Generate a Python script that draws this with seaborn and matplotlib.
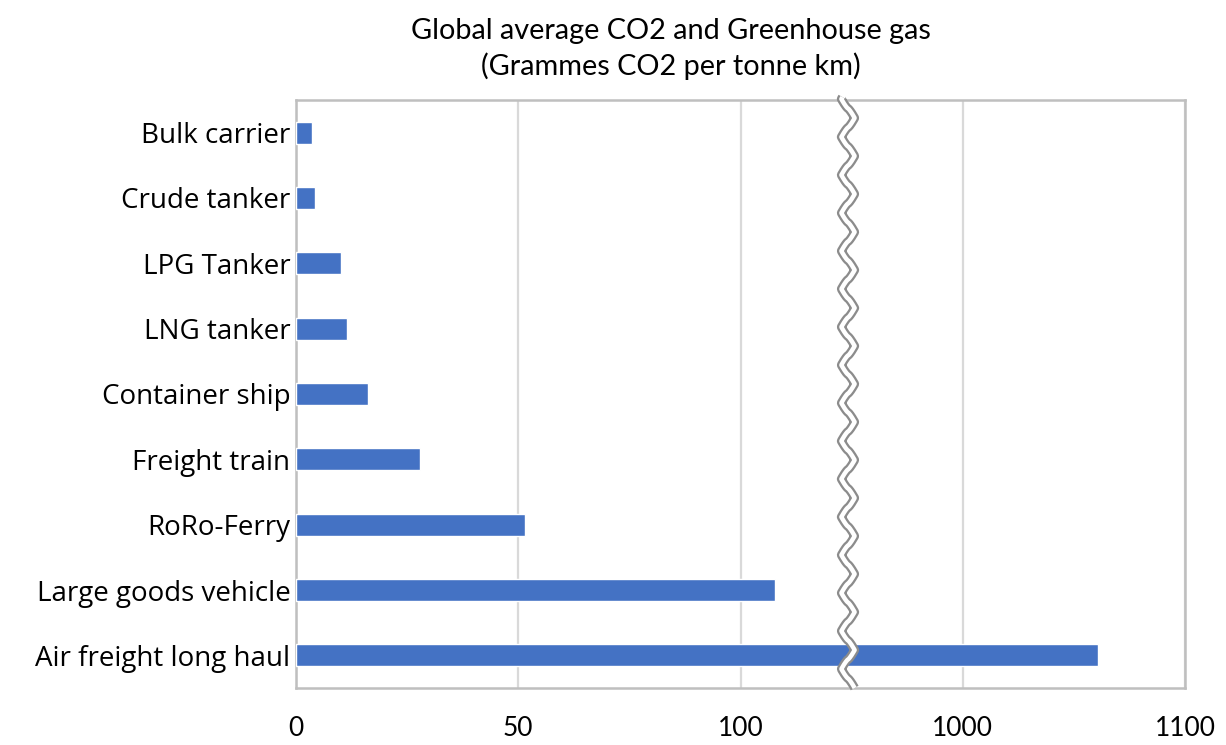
import numpy as np
import pandas as pd
import matplotlib
matplotlib.use("Agg")
import matplotlib.pyplot as plt
import seaborn as sns

categories = ["Bulk carrier", "Crude tanker", "LPG Tanker", "LNG tanker", "Container ship",
              "Freight train", "RoRo-Ferry", "Large goods vehicle", "Air freight long haul"]
values = [3.6, 4.2, 10.1, 11.5, 16.2, 27.9, 51.6, 107.7, 1061]
tick_values = [0, 50, 100, 1000, 1100]
tick_labels = ["0", "50", "100", "1000", "1100"]
title_lines = ["Global average CO2 and Greenhouse gas", "(Grammes CO2 per tonne km)"]

BREAK_LOW, BREAK_HIGH = 125.0, 950.0


def fwd(x):
    x = np.asarray(x, dtype=float)
    return np.where(x <= BREAK_LOW, x,
                    np.where(x >= BREAK_HIGH, BREAK_LOW + (x - BREAK_HIGH) / 2.0, BREAK_LOW))


def inv(t):
    t = np.asarray(t, dtype=float)
    return np.where(t <= BREAK_LOW, t, BREAK_HIGH + (t - BREAK_LOW) * 2.0)


sns.set_theme(style="white")
plt.rcParams["font.family"] = ["Lato", "DejaVu Sans"]
plt.rcParams["text.color"] = "black"

df = pd.DataFrame({"mode": categories, "value": values})

fig = plt.figure(figsize=(12.26, 7.45), dpi=100)
ax = fig.add_axes([296 / 1226, 1 - 688 / 745, (1185 - 296) / 1226, (688 - 100) / 745])

sns.barplot(data=df, x="value", y="mode", orient="h", color="#4472C4", saturation=1,
            width=0.34, ax=ax, zorder=3)

ax.set_xscale("function", functions=(fwd, inv))
ax.set_xlim(0, 1100)
ax.set_ylim(8.5, -0.5)
ax.set_xticks(tick_values)
ax.set_xticklabels(tick_labels)
ax.set_xlabel("")
ax.set_ylabel("")
ax.xaxis.grid(True, color="#D9D9D9", linewidth=1.6, zorder=0)
ax.yaxis.grid(False)
ax.set_axisbelow(True)
ax.tick_params(axis="x", length=0, pad=20, labelsize=19, colors="#000000")
ax.tick_params(axis="y", length=0, pad=4, labelsize=20, colors="#000000")
for lab in ax.get_yticklabels():
    lab.set_fontfamily(["Open Sans", "DejaVu Sans"])
for s in ax.spines.values():
    s.set_color("#BFBFBF")
    s.set_linewidth(1.8)
    s.set_visible(True)

# wavy axis-break marker
bx = (848 - 296) / (1185 - 296)
yy = np.linspace(0.0, 1.005, 1200)
period = 38 / 588
phase = (yy / period) % 1.0
tri = 4 * np.abs(phase - 0.5) - 1
wave = np.sign(tri) * np.abs(tri) ** 0.8
xx = bx + 0.0075 * wave
tr = ax.transAxes
ax.plot(xx, yy, transform=tr, color="#8C8C8C", lw=6.5, clip_on=False, zorder=5,
        solid_capstyle="butt")
ax.plot(xx, yy, transform=tr, color="white", lw=3.2, clip_on=False, zorder=6,
        solid_capstyle="butt")

fig.text(671 / 1226, 1 - 31 / 745, title_lines[0], ha="center", va="center",
         fontsize=20.8, color="black")
fig.text(671 / 1226, 1 - 66 / 745, title_lines[1], ha="center", va="center",
         fontsize=20.8, color="black")

fig.savefig("out.png", dpi=100)
